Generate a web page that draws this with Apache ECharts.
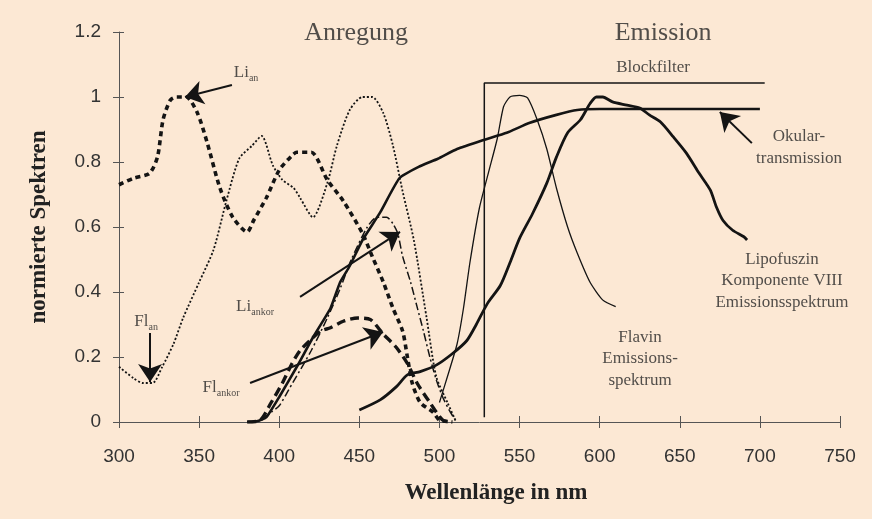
<!DOCTYPE html>
<html><head><meta charset="utf-8">
<script src="https://cdn.jsdelivr.net/npm/echarts@6/dist/echarts.min.js"></script>
<style>html,body{margin:0;padding:0;background:#fce8d4}#c{width:872px;height:519px}</style>
</head><body><div id="c"></div><script>
// ---- data (wavelength nm, normalised value) ----
const flAn = [[300,0.17],[309,0.135],[315,0.12],[321,0.12],[327,0.17],[334,0.24],[340,0.32],[350,0.43],[359,0.53],[367,0.68],[375,0.81],[383,0.85],[389,0.88],[396,0.79],[402,0.745],[409,0.72],[413,0.69],[421,0.63],[430,0.735],[436,0.85],[444,0.96],[452,1.0],[458,1.0],[465,0.95],[471,0.85],[477,0.71],[484,0.56],[492,0.32],[498,0.14],[505,0.06],[510,0.005]];
const liAn = [[300,0.73],[309,0.75],[319,0.765],[324,0.815],[327.5,0.93],[332,0.99],[336,1.0],[342,1.0],[349,0.95],[355,0.86],[363,0.72],[371,0.63],[380,0.585],[384,0.62],[392,0.69],[400,0.775],[408,0.82],[411,0.83],[420,0.83],[430,0.745],[440,0.68],[452,0.58],[458,0.51],[465,0.43],[471,0.35],[477,0.28],[480,0.2],[483,0.12],[488,0.06],[496,0.03],[500,0.006],[508,0]];
const flAnkor = [[380,0],[388,0.005],[395,0.06],[402,0.12],[408,0.18],[413,0.22],[419,0.25],[426,0.28],[432,0.29],[440,0.31],[449,0.32],[457,0.315],[465,0.27],[473,0.23],[480,0.18],[486,0.12],[494,0.06],[502,0.006],[508,0]];
const liAnkor = [[380,0],[388,0.005],[395,0.03],[400,0.05],[406,0.1],[420,0.22],[430,0.32],[438,0.41],[445,0.5],[455,0.6],[461,0.63],[467,0.63],[471,0.61],[474,0.58],[477,0.51],[482,0.43],[486,0.355],[490,0.28],[494,0.2],[498,0.13],[502,0.077],[506,0.037],[510,0.005]];
const okular = [[380,0],[386,0.002],[392,0.015],[400,0.077],[411,0.17],[421,0.26],[432,0.35],[438,0.43],[444,0.48],[452,0.56],[463,0.645],[475,0.75],[487,0.785],[499,0.81],[511,0.84],[527,0.867],[542,0.89],[556,0.92],[573,0.945],[586,0.96],[600,0.963],[700,0.963]];
const flavinEm = [[500,0.06],[505,0.14],[511,0.24],[515,0.35],[519,0.49],[525,0.66],[531,0.775],[536,0.87],[540,0.97],[544,1.0],[550,1.005],[555,0.997],[561,0.93],[567,0.84],[573,0.72],[580,0.6],[586,0.52],[594,0.43],[602,0.375],[610,0.355]];
const lipoEm = [[450,0.037],[463,0.068],[473,0.108],[480,0.145],[488,0.155],[498,0.175],[508,0.21],[517,0.25],[523,0.3],[530,0.365],[538,0.42],[544,0.49],[550,0.565],[558,0.64],[567,0.735],[573,0.815],[580,0.89],[588,0.93],[594,0.98],[598,1.0],[602,1.0],[608,0.985],[617,0.975],[625,0.966],[631,0.945],[638,0.923],[646,0.877],[654,0.828],[662,0.766],[669,0.714],[673,0.66],[677,0.62],[683,0.59],[690,0.57],[692,0.56]];
const blockfilter = [[528,0.015],[528,1.043],[703,1.043]];

// ---- annotations (data coordinates) ----
const arrows = [
  [[370.5,1.037],[341.2,1.0]],
  [[319.4,0.274],[319.4,0.123]],
  [[413,0.385],[475.4,0.585]],
  [[381.8,0.12],[464.8,0.277]],
  [[695,0.858],[675,0.954]]
];
const texts = [
  {value:[448,1.197], name:'{b|Anregung}'},
  {value:[639.6,1.197], name:'{b|Emission}'},
  {value:[633.3,1.09], name:'{m|Blockfilter}'},
  {value:[379.3,1.074], name:'{m|Li}{s|an}'},
  {value:[316.9,0.308], name:'{m|Fl}{s|an}'},
  {value:[384.9,0.354], name:'{m|Li}{s|ankor}'},
  {value:[363.7,0.105], name:'{m|Fl}{s|ankor}'},
  {value:[724.4,0.845], name:'{m|Okular-}\n{m|transmission}'},
  {value:[713.8,0.434], name:'{m|Lipofuszin}\n{m|Komponente VIII}\n{m|Emissionsspektrum}'},
  {value:[625.2,0.195], name:'{m|Flavin}\n{m|Emissions-}\n{m|spektrum}'}
];

const INK = '#141414';
const TXT = '#262626';
const SERIF = '"Liberation Serif","Times New Roman",serif';
function line(name, data, width, type, smooth){
  return {name, type:'line', data, showSymbol:false, symbol:'none', smooth,
    lineStyle:{color:INK, width, type}, silent:true, animation:false, z:3};
}
const chart = echarts.init(document.getElementById('c'));
chart.setOption({
  backgroundColor:'#fce8d4',
  animation:false,
  grid:{left:119, right:32, top:32, bottom:97},
  xAxis:[{
    type:'value', min:300, max:750, interval:50,
    axisLine:{lineStyle:{color:'#555', width:1}},
    axisTick:{length:6, lineStyle:{color:'#555'}},
    axisLabel:{color:'#333', fontSize:19, margin:25, fontFamily:'"Liberation Sans",Arial,sans-serif'},
    splitLine:{show:false},
    name:'Wellenlänge in nm', nameLocation:'middle', nameGap:60,
    nameTextStyle:{color:'#222', fontSize:23, fontWeight:'bold', fontFamily:SERIF, padding:[0,0,0,33]}
  },{
    type:'value', min:300, max:750, interval:50, position:'bottom',
    axisLine:{show:false}, axisLabel:{show:false}, splitLine:{show:false},
    axisTick:{inside:true, length:6, lineStyle:{color:'#555'}}
  }],
  yAxis:[{
    type:'value', min:0, max:1.2, interval:0.2,
    axisLine:{show:true, lineStyle:{color:'#555', width:1}},
    axisTick:{show:true, length:6, lineStyle:{color:'#555'}},
    axisLabel:{color:'#333', fontSize:19, margin:18, fontFamily:'"Liberation Sans",Arial,sans-serif'},
    splitLine:{show:false},
    name:'normierte Spektren', nameLocation:'middle', nameGap:68, nameRotate:90,
    nameTextStyle:{color:'#222', fontSize:23, fontWeight:'bold', fontFamily:SERIF}
  },{
    type:'value', min:0, max:1.2, interval:0.2, position:'left',
    axisLine:{show:false}, axisLabel:{show:false}, splitLine:{show:false},
    axisTick:{show:true, inside:true, length:5, lineStyle:{color:'#555'}}
  }],
  series:[
    line('Fl_an', flAn, 1.8, [2,2], 0.25),
    line('Li_an', liAn, 3.6, [5,4], 0.25),
    line('Fl_ankor', flAnkor, 3.4, [9,5], 0.25),
    line('Li_ankor', liAnkor, 1.5, [8,3,2,3], 0.25),
    line('Okular', okular, 2.6, 'solid', 0.15),
    line('Flavin', flavinEm, 1.3, 'solid', 0.2),
    line('Lipofuszin', lipoEm, 2.8, 'solid', 0.25),
    line('Blockfilter', blockfilter, 1.5, 'solid', false),
    {
      type:'scatter', symbolSize:0, data:texts, silent:true, animation:false, z:5,
      label:{show:true, position:'inside', align:'center', verticalAlign:'middle',
        formatter:p=>p.name,
        rich:{
          b:{fontSize:26, fontFamily:SERIF, color:TXT, lineHeight:30},
          m:{fontSize:17, fontFamily:SERIF, color:TXT, lineHeight:21.5},
          s:{fontSize:10, fontFamily:SERIF, color:TXT, verticalAlign:'bottom', lineHeight:16}
        }},
      markLine:{
        silent:true, animation:false, symbol:['none','arrow'], symbolSize:18,
        label:{show:false},
        lineStyle:{color:INK, width:2, type:'solid'},
        itemStyle:{color:INK},
        emphasis:{disabled:true},
        data: arrows.map(a=>[{coord:a[0]},{coord:a[1]}])
      }
    }
  ]
});
</script></body></html>
